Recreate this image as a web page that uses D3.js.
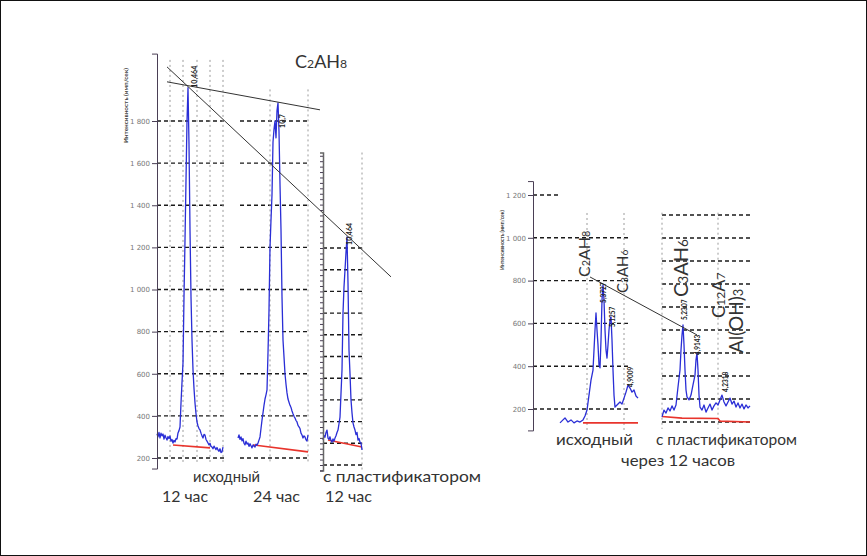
<!DOCTYPE html>
<html>
<head>
<meta charset="utf-8">
<script src="https://cdn.jsdelivr.net/npm/d3@7"></script>
<style>
  body { margin: 0; background: #fff; }
  svg { display: block; font-family: Lato, "Open Sans", sans-serif; }
</style>
</head>
<body>
<div id="chart"></div>
<script>
// === ДАННЫЕ ===
// пики: [2θ, интенсивность]

// левый график: исходный 12 час
const pik12h = [
  [7.00,315],[7.05,300],[7.10,322],[7.15,295],[7.20,318],[7.25,305],[7.30,314],[7.35,290],[7.40,308],[7.45,296],
  [7.50,285],[7.55,302],[7.60,292],[7.65,304],[7.70,280],[7.75,288],[7.80,271],[7.85,284],[7.90,276],[7.95,292],
  [8.00,290],[8.05,319],[8.10,330],[8.15,347],[8.20,461],[8.25,560],[8.30,651],[8.35,965],[8.40,1235],[8.45,1520],
  [8.50,1800],[8.55,1958],[8.60,1690],[8.65,1283],[8.70,965],[8.75,760],[8.80,618],[8.85,530],[8.90,461],[8.95,410],
  [9.00,371],[9.05,352],[9.10,340],[9.15,333],[9.20,318],[9.25,305],[9.30,295],[9.35,312],[9.40,309],[9.45,288],
  [9.50,280],[9.55,271],[9.60,262],[9.65,270],[9.70,255],[9.75,252],[9.80,244],[9.85,256],[9.90,248],[9.95,240],
  [10.00,250],[10.05,238],[10.10,232],[10.15,244],[10.20,226],[10.25,229],[10.30,252]
];
const fon12h = [[7.8,262],[9.65,248]];

// исходный 24 час
const pik24h = [
  [6.65,295],[6.70,310],[6.75,288],[6.80,300],[6.85,281],[6.90,292],[6.95,270],[7.00,262],[7.05,280],[7.10,266],
  [7.15,271],[7.20,255],[7.25,268],[7.30,258],[7.35,248],[7.40,262],[7.45,256],[7.50,252],[7.55,266],[7.60,260],
  [7.65,271],[7.70,285],[7.75,300],[7.80,340],[7.85,380],[7.90,414],[7.95,450],[8.00,480],[8.05,500],[8.10,523],
  [8.15,700],[8.20,900],[8.25,1200],[8.30,1330],[8.35,1450],[8.40,1700],[8.45,1760],[8.50,1800],[8.55,1720],[8.60,1850],
  [8.65,1886],[8.70,1750],[8.75,1500],[8.80,1283],[8.85,965],[8.90,760],[8.95,680],[9.00,600],[9.05,550],[9.10,509],
  [9.15,480],[9.20,465],[9.25,450],[9.30,440],[9.35,423],[9.40,410],[9.45,398],[9.50,390],[9.55,378],[9.60,371],
  [9.65,355],[9.70,348],[9.75,340],[9.80,318],[9.85,309],[9.90,295],[9.95,305],[10.00,300],[10.05,286],[10.10,281],[10.15,309]
];
const fon24h = [[7.4,262],[10.15,229]];

// с пластификатором 12 час (своя шкала)
const pikPlast12 = [
  [7.40,115],[7.45,135],[7.50,128],[7.55,150],[7.60,161],[7.65,124],[7.70,118],[7.75,130],[7.80,112],[7.85,106],
  [7.90,120],[7.95,110],[8.00,124],[8.05,135],[8.10,150],[8.15,161],[8.20,190],[8.25,221],[8.30,330],[8.35,438],
  [8.40,700],[8.45,820],[8.50,899],[8.55,980],[8.60,1051],[8.65,839],[8.70,530],[8.75,420],[8.80,300],[8.85,240],
  [8.90,194],[8.95,175],[9.00,161],[9.05,140],[9.10,150],[9.15,115],[9.20,122],[9.25,105],[9.30,101],[9.35,69]
];
const fonPlast12 = [[7.65,115],[9.35,83]];

// правый график: исходный, через 12 часов
const pikIsh = [
  [13.7,135],[14.0,149],[14.2,158],[14.5,139],[14.8,149],[15.1,135],[15.4,144],[15.7,139],[16.0,149],[16.2,167],
  [16.4,195],[16.6,265],[16.8,335],[17.0,382],[17.1,476],[17.2,569],[17.3,649],[17.4,569],[17.5,499],[17.6,406],
  [17.7,392],[17.8,522],[17.9,709],[18.0,780],[18.1,709],[18.2,569],[18.3,476],[18.4,438],[18.5,499],[18.6,569],
  [18.7,616],[18.8,630],[18.9,522],[19.0,382],[19.1,265],[19.2,209],[19.4,219],[19.7,233],[19.9,223],[20.1,251],
  [20.3,279],[20.5,312],[20.7,298],[20.9,279],[21.1,289],[21.3,261],[21.5,251]
];
const fonIsh = [[16.0,135],[21.5,135]];

// с пластификатором, через 12 часов (своя шкала)
const pikPlast = [
  [15.2,122],[15.4,152],[15.6,139],[15.8,161],[16.0,148],[16.2,170],[16.4,152],[16.6,174],[16.8,252],[17.0,326],
  [17.1,413],[17.2,478],[17.3,522],[17.4,435],[17.5,326],[17.6,239],[17.7,209],[17.9,196],[18.1,217],[18.3,261],
  [18.5,304],[18.6,370],[18.7,400],[18.8,326],[18.9,217],[19.0,165],[19.2,152],[19.4,174],[19.6,143],[19.8,161],
  [20.0,178],[20.2,152],[20.4,170],[20.6,183],[20.8,174],[21.0,196],[21.2,217],[21.4,187],[21.6,170],[21.8,187],
  [22.0,204],[22.2,178],[22.4,191],[22.6,165],[22.8,183],[23.0,161],[23.2,178],[23.4,157],[23.6,174],[23.8,161],[24.0,170]
];
const fonPlast = [[15.2,124],[17.2,117],[20.8,115],[21.0,104],[24.0,100]];

// деления шкал
const tickLeft = [200, 400, 600, 800, 1000, 1200, 1400, 1600, 1800];
const tickRight = [200, 400, 600, 800, 1000, 1200];
const gridPlast12 = d3.range(0, 1001, 100);
const gridPlast = d3.range(100, 1001, 100);

// линии-тренды по вершинам пиков (в координатах первой панели / панели "исходный")
const trendLeft = [
  [[7.5, 2057], [18.7, 1060]],
  [[7.5, 1986], [15.15, 1853]]
];
const trendRight = [[16.7, 817], [27.4, 546]];

// подписи
const podpisPik = { p12: "10,464", p24: "10,7", pPl: "10,464" };
const podpisRight = ["5,3727", "5,1257", "4,9009", "5,2307", "4,9143", "4,2318"];

// === ПОСТРОЕНИЕ ===
const svg = d3.select("#chart").append("svg").attr("width", 867).attr("height", 556);
svg.append("rect").attr("x", 0.5).attr("y", 0.5).attr("width", 866).attr("height", 555)
  .attr("fill", "#fff").attr("stroke", "#111");

const ruFmt = d3.formatLocale({ decimal: ",", thousands: " ", grouping: [3], currency: ["", " ₽"] }).format(",");

const yL = d3.scaleLinear().domain([200, 1800]).range([458, 121]);
const x1 = d3.scaleLinear().domain([7.0, 10.35]).range([157, 224]);
const x2 = d3.scaleLinear().domain([6.6, 10.25]).range([237, 310]);
const x3 = d3.scaleLinear().domain([7.4, 9.35]).range([323, 362]);
const y3 = d3.scaleLinear().domain([0, 1000]).range([465, 248]);

const yR = d3.scaleLinear().domain([200, 1200]).range([409, 195]);
const xA = d3.scaleLinear().domain([11.0, 21.7]).range([533, 640]);
const xB = d3.scaleLinear().domain([15.2, 24.0]).range([662, 750]);
const yB = d3.scaleLinear().domain([100, 1000]).range([422, 215]);

const gGrid = svg.append("g");
const gData = svg.append("g");
const gText = svg.append("g");

function hGrid(vals, x, d0, d1, y) {
  gGrid.selectAll(null).data(vals).enter().append("line")
    .attr("x1", x(d0)).attr("x2", x(d1))
    .attr("y1", d => y(d)).attr("y2", d => y(d))
    .attr("stroke", "#1a1a1a").attr("stroke-width", 1.4).attr("stroke-dasharray", "4,3");
}
function vGrid(vals, x, y, v0, v1) {
  gGrid.selectAll(null).data(vals).enter().append("line")
    .attr("x1", d => x(d)).attr("x2", d => x(d))
    .attr("y1", y(v0)).attr("y2", y(v1))
    .attr("stroke", "#9a9a9a").attr("stroke-width", 1).attr("stroke-dasharray", "2,3");
}
function trace(data, x, y, color, w) {
  gData.append("path").datum(data)
    .attr("d", d3.line().x(d => x(d[0])).y(d => y(d[1])))
    .attr("fill", "none").attr("stroke", color).attr("stroke-width", w)
    .attr("stroke-linejoin", "round");
}
function axisY(x, scale, d0, d1, major, minorStep) {
  const s = scale.copy().domain([d0, d1]).range([scale(d0), scale(d1)]);
  const g = svg.append("g").attr("transform", `translate(${x},0)`);
  g.call(d3.axisLeft(s).tickValues(d3.range(Math.ceil(d0 / minorStep) * minorStep, d1, minorStep))
    .tickSize(3).tickFormat(""));
  if (major) {
    g.call(d3.axisLeft(s).tickValues(major).tickSize(5).tickPadding(2).tickFormat(ruFmt))
      .call(a => a.selectAll("text").attr("fill", "#777").style("font-size", "7px")
        .style("font-family", "'DejaVu Sans', sans-serif"));
  }
  g.selectAll("path, line").attr("stroke", "#4a3f55");
  return g;
}
// вертикальная подпись: parts = [[текст, индекс?], ...]
function vText(x, y, parts, size, color, weight, len) {
  const t = gText.append("text")
    .attr("transform", `translate(${x},${y}) rotate(-90)`)
    .attr("fill", color || "#333").style("font-size", size + "px")
    .style("font-weight", weight || "normal");
  if (len) t.attr("textLength", len).attr("lengthAdjust", "spacingAndGlyphs");
  parts.forEach(p => {
    t.append("tspan").text(p[0]).style("font-size", p[1] ? (size * 0.68) + "px" : null);
  });
  return t;
}
function hText(x, y, parts, size, len) {
  const t = gText.append("text").attr("x", x).attr("y", y).attr("fill", "#333")
    .style("font-size", size + "px");
  if (len) t.attr("textLength", len).attr("lengthAdjust", "spacingAndGlyphs");
  parts.forEach(p => {
    t.append("tspan").text(p[0]).style("font-size", p[1] ? (size * 0.68) + "px" : null);
  });
  return t;
}

// --- левый график: сетка ---
hGrid(tickLeft, x1, 7.0, 10.35, yL);
vGrid([7.65, 8.3, 9.0, 9.65, 10.3], x1, yL, 2090, 180);
hGrid(tickLeft, x2, 6.75, 10.15, yL);
vGrid([8.25, 10.15], x2, yL, 1950, 180);
hGrid(gridPlast12, x3, 7.4, 9.35, y3);
vGrid([9.35], x3, y3, 1440, -25);

axisY(157, yL, 150, 2120, tickLeft, 50);
axisY(323, y3, -25, 1440, null, 25).selectAll("path").attr("stroke", "#666").attr("stroke-width", 1.5);

trace(fon12h, x1, yL, "#e8342c", 1.6);
trace(fon24h, x2, yL, "#e8342c", 1.6);
trace(fonPlast12, x3, y3, "#e8342c", 1.6);
trace(pik12h, x1, yL, "#2a2ed6", 1.3);
trace(pik24h, x2, yL, "#2a2ed6", 1.3);
trace(pikPlast12, x3, y3, "#2a2ed6", 1.3);

trendLeft.forEach(l => trace(l, x1, yL, "#333", 1));

vText(x1(8.55) + 9, yL(1958), [[podpisPik.p12]], 7, "#222", "bold");
vText(x2(8.65) + 7, yL(1886) + 25, [[podpisPik.p24]], 7, "#222", "bold");
vText(x3(8.60) + 5, y3(1051) + 8, [[podpisPik.pPl]], 7, "#222", "bold");

vText(128, 143, [["Интенсивность (имп/сек)"]], 5.5, "#444", "bold", 75);

hText(295, 68, [["C"], ["2", 1], ["AH"], ["8", 1]], 18);

hText(193, 482, [["исходный"]], 15, 67);
hText(162, 502, [["12 час"]], 16, 46);
hText(253, 502, [["24 час"]], 16, 47);
hText(323, 482, [["с пластификатором"]], 16, 158);
hText(325, 502, [["12 час"]], 16, 47);

// --- правый график ---
hGrid([200, 400, 600, 800, 1000], xA, 11.0, 20.5, yR);
hGrid([1200], xA, 11.0, 13.5, yR);
vGrid([16.4, 20.1], xA, yR, 1116, 100);
hGrid(gridPlast, xB, 15.2, 24.0, yB);
vGrid([15.2, 20.8], xB, yB, 1010, 70);

axisY(533, yR, 100, 1265, tickRight, 50);

trace(fonIsh, xA, yR, "#e8342c", 1.6);
trace(fonPlast, xB, yB, "#e8342c", 1.6);
trace(pikIsh, xA, yR, "#2a2ed6", 1.3);
trace(pikPlast, xB, yB, "#2a2ed6", 1.3);
trace(trendRight, xA, yR, "#333", 1);

vText(504, 270, [["Интенсивность (имп/сек)"]], 5, "#444", "bold", 60);

vText(xA(18.0) + 3, yR(780) + 18, [[podpisRight[0]]], 6.5, "#222", "bold");
vText(xA(18.8) + 4, yR(630) + 10, [[podpisRight[1]]], 6.5, "#222", "bold");
vText(xA(20.5) + 5, yR(312) + 2, [[podpisRight[2]]], 6.5, "#222", "bold");
vText(xB(17.3) + 4, yB(522) - 5, [[podpisRight[3]]], 6.5, "#222", "bold");
vText(xB(18.7) + 3, yB(400) + 2, [[podpisRight[4]]], 6.5, "#222", "bold");
vText(xB(21.6) + 2, yB(187) - 10, [[podpisRight[5]]], 6.5, "#222", "bold");

vText(590, 277, [["C"], ["2", 1], ["AH"], ["8", 1]], 16);
vText(628, 293, [["C"], ["3", 1], ["AH"], ["6", 1]], 15);
vText(688, 297, [["C"], ["3", 1], ["AH"], ["6", 1]], 20);
vText(725, 318, [["C"], ["12", 1], ["A"], ["7", 1]], 18);
vText(743, 353, [["Al(OH)"], ["3", 1]], 19);

hText(556, 445, [["исходный"]], 16, 77);
hText(656, 445, [["с пластификатором"]], 16, 141);
hText(621, 466, [["через 12 часов"]], 16, 114);
</script>
</body>
</html>
